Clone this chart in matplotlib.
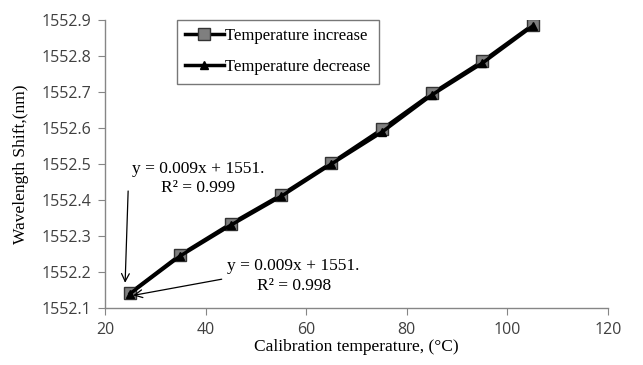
import matplotlib.pyplot as plt

# Data
temps = [25, 35, 45, 55, 65, 75, 85, 95, 105]
wl_increase = [1552.142, 1552.248, 1552.334, 1552.414, 1552.503, 1552.596, 1552.696, 1552.785, 1552.886]
wl_decrease = [1552.140, 1552.245, 1552.330, 1552.410, 1552.500, 1552.588, 1552.692, 1552.780, 1552.883]

x_ticks = [20, 40, 60, 80, 100, 120]
y_ticks = [1552.1, 1552.2, 1552.3, 1552.4, 1552.5, 1552.6, 1552.7, 1552.8, 1552.9]

serif = "Liberation Serif"
tick_font = "Open Sans"

fig = plt.figure(figsize=(6.43, 3.65), dpi=100)
ax = fig.add_axes([105 / 643, 1 - 308 / 365, (608 - 105) / 643, (308 - 20) / 365])

ax.plot(temps, wl_increase, color="black", lw=2.5, marker="s", ms=9,
        mfc="#7f7f7f", mec="#333333", mew=1.0, label="Temperature increase", zorder=3)
ax.plot(temps, wl_decrease, color="black", lw=2.5, marker="^", ms=6,
        mfc="black", mec="black", label="Temperature decrease", zorder=4)

ax.set_xlim(20, 120)
ax.set_ylim(1552.1, 1552.9)
ax.set_xticks(x_ticks)
ax.set_yticks(y_ticks)
ax.set_yticklabels([f"{v:.1f}" for v in y_ticks])

for s in ["top", "right"]:
    ax.spines[s].set_visible(False)
for s in ["left", "bottom"]:
    ax.spines[s].set_color("#868686")
    ax.spines[s].set_linewidth(1.0)
ax.tick_params(axis="both", direction="out", length=5, color="#868686",
               labelsize=11.5, labelcolor="#404040", pad=5)
for lbl in ax.get_xticklabels() + ax.get_yticklabels():
    lbl.set_fontfamily(tick_font)

ax.set_xlabel("Calibration temperature, (°C)", fontfamily=serif, fontsize=12.5, labelpad=1)
ax.set_ylabel("Wavelength Shift,(nm)", fontfamily=serif, fontsize=12.5, labelpad=9)

leg = ax.legend(loc="upper left", bbox_to_anchor=(0.143, 1.0), borderaxespad=0,
                frameon=True, fancybox=False, edgecolor="#555555", handlelength=2.3,
                handletextpad=0.1, borderpad=0.5, labelspacing=0.9,
                prop={"family": serif, "size": 12})
leg.get_frame().set_linewidth(1.0)

# Trend-line annotations: text and arrows drawn separately
ax.text(38.5, 1552.41, "y = 0.009x + 1551.\nR² = 0.999", ha="center", va="bottom",
        fontfamily=serif, fontsize=12.5, linespacing=1.3)
ax.text(57.5, 1552.14, "y = 0.009x + 1551.\nR² = 0.998", ha="center", va="bottom",
        fontfamily=serif, fontsize=12.5, linespacing=1.3)
ax.annotate("", xy=(24.0, 1552.17), xytext=(24.6, 1552.425),
            arrowprops=dict(arrowstyle="->", color="black", lw=0.9,
                            shrinkA=0, shrinkB=0, mutation_scale=14),
            annotation_clip=False)
ax.annotate("", xy=(25.6, 1552.135), xytext=(43.2, 1552.18),
            arrowprops=dict(arrowstyle="->", color="black", lw=0.9,
                            shrinkA=0, shrinkB=0, mutation_scale=14),
            annotation_clip=False)

fig.savefig("out.png", dpi=100)
